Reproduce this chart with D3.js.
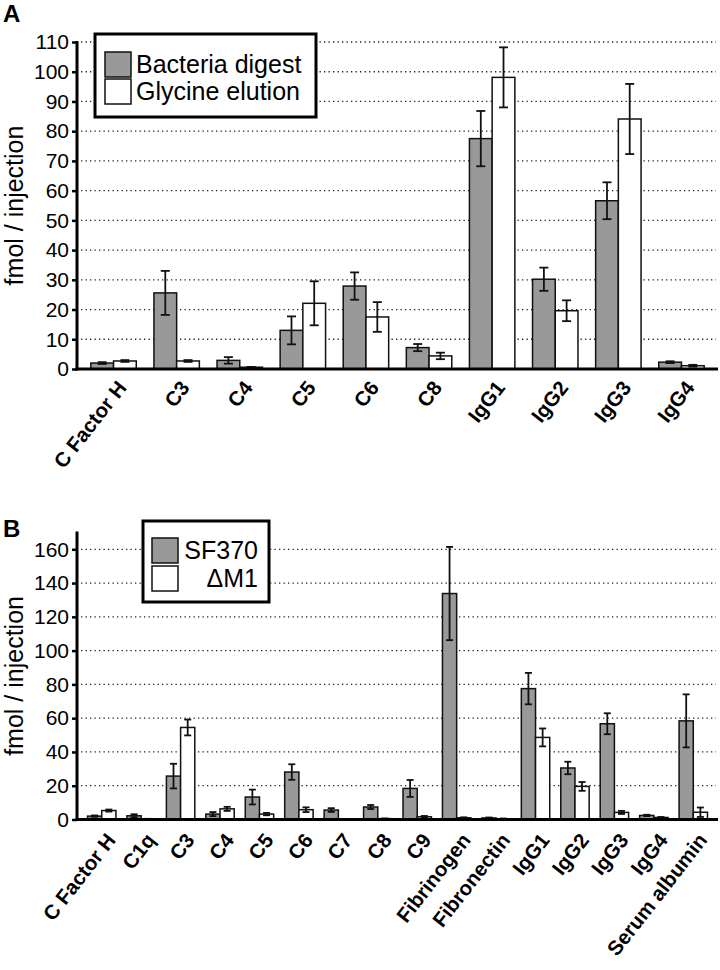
<!DOCTYPE html>
<html><head><meta charset="utf-8">
<script src="https://cdn.jsdelivr.net/npm/d3@7"></script>
<style>html,body{margin:0;padding:0;background:#fff;} svg{display:block;font-family:"Liberation Sans",Arial,sans-serif;}</style>
</head><body>
<script>
// Panel A data
const catsA = ["C Factor H","C3","C4","C5","C6","C8","IgG1","IgG2","IgG3","IgG4"];
const bacteriaDigest    = [2.0,25.6,2.9,13.0,27.9,7.2,77.5,30.2,56.6,2.3];
const bacteriaDigestErr = [0.3,7.4,1.1,4.7,4.6,1.2,9.3,3.9,6.2,0.3];
const glycineElution    = [2.7,2.7,0.6,22.1,17.5,4.4,98.1,19.6,84.1,1.1];
const glycineElutionErr = [0.3,0.3,0.1,7.4,5.0,1.1,10.1,3.5,11.8,0.3];
const ticksA = [0,10,20,30,40,50,60,70,80,90,100,110];

// Panel B data
const catsB = ["C Factor H","C1q","C3","C4","C5","C6","C7","C8","C9","Fibrinogen","Fibronectin","IgG1","IgG2","IgG3","IgG4","Serum albumin"];
const sf370    = [2.0,2.2,25.7,3.2,13.3,28.1,5.6,7.4,18.4,133.8,0.9,77.5,30.5,56.7,2.4,58.4];
const sf370Err = [0.4,0.9,7.3,1.2,4.4,4.6,1.1,1.2,5.0,27.6,0.3,9.3,3.7,6.2,0.4,15.7];
const dM1      = [5.3,0.3,54.5,6.3,3.2,5.8,0.2,0.5,1.6,1.0,0.4,48.6,19.6,4.2,1.2,4.3];
const dM1Err   = [0.6,0.1,4.7,1.2,0.7,1.4,0.1,0.1,0.5,0.3,0.2,5.3,2.6,0.9,0.3,2.8];
const ticksB = [0,20,40,60,80,100,120,140,160];

const W = 720, H = 970;
const svg = d3.select("body").append("svg").attr("width", W).attr("height", H);

function panel(o) {
  const g = svg.append("g");
  const y = d3.scaleLinear().domain([0, o.ymax]).range([o.y0, o.y1]);
  const x = d3.scaleBand().domain(o.cats).range([82, 713]).paddingInner(0.28).paddingOuter(0.14);
  const xs = d3.scaleBand().domain([0,1]).range([0, x.bandwidth()]);
  const axisX = 77;

  // gridlines
  g.append("g").selectAll("line").data(o.ticks.filter(t => t > 0)).join("line")
    .attr("x1", axisX + 4).attr("x2", 716)
    .attr("y1", d => y(d)).attr("y2", d => y(d))
    .attr("stroke", "#222").attr("stroke-width", 1.3).attr("stroke-dasharray", "1.3,3.2");

  // y axis
  const ax = g.append("g").attr("transform", `translate(${axisX},0)`)
    .call(d3.axisLeft(y).tickValues(o.ticks).tickSize(5).tickPadding(3).tickFormat(d3.format("d")));
  ax.select(".domain").remove();
  ax.selectAll(".tick line").attr("stroke", "#000").attr("stroke-width", 2.5);
  ax.selectAll(".tick text").attr("font-size", 21).attr("fill", "#000")
    .attr("font-family", '"Liberation Sans",Arial,sans-serif');
  g.append("line").attr("x1", axisX).attr("x2", axisX).attr("y1", y(o.ymax) - 1).attr("y2", o.y0 + 1.5)
    .attr("stroke", "#000").attr("stroke-width", 3);

  // bars
  const series = [
    {vals: o.s1, err: o.e1, fill: "#999999"},
    {vals: o.s2, err: o.e2, fill: "#ffffff"}
  ];
  series.forEach((s, si) => {
    const sg = g.append("g");
    sg.selectAll("rect").data(o.cats).join("rect")
      .attr("x", d => x(d) + xs(si))
      .attr("y", (d, i) => y(s.vals[i]))
      .attr("width", xs.bandwidth())
      .attr("height", (d, i) => o.y0 - y(s.vals[i]))
      .attr("fill", s.fill).attr("stroke", "#111").attr("stroke-width", 1.5);
  });
  series.forEach((s, si) => {
    const eg = g.append("g").attr("stroke", "#111").attr("stroke-width", 1.8);
    o.cats.forEach((c, i) => {
      const cx = x(c) + xs(si) + xs.bandwidth() / 2;
      const top = y(s.vals[i] + s.err[i]), bot = y(Math.max(0, s.vals[i] - s.err[i]));
      eg.append("line").attr("x1", cx).attr("x2", cx).attr("y1", top).attr("y2", bot);
      eg.append("line").attr("x1", cx - o.cap).attr("x2", cx + o.cap).attr("y1", top).attr("y2", top);
      eg.append("line").attr("x1", cx - o.cap).attr("x2", cx + o.cap).attr("y1", bot).attr("y2", bot);
    });
  });

  // baseline
  g.append("line").attr("x1", axisX - 1.5).attr("x2", 718).attr("y1", o.y0).attr("y2", o.y0)
    .attr("stroke", "#000").attr("stroke-width", 3);

  // x labels
  g.append("g").selectAll("text").data(o.cats).join("text")
    .attr("transform", d => `translate(${x(d) + x.bandwidth()/2 + o.lx},${o.y0 + o.ly}) rotate(${o.angle})`)
    .attr("text-anchor", "end").attr("font-size", o.lfs).attr("font-weight", "bold").attr("fill", "#000")
    .text(d => d);

  // y title
  g.append("text").attr("transform", `translate(23,${(o.y0 + o.y1) / 2}) rotate(-90)`)
    .attr("text-anchor", "middle").attr("font-size", 25).attr("fill", "#000").text("fmol / injection");

  // panel letter
  g.append("text").attr("x", 3).attr("y", o.letterY).attr("font-size", 24).attr("font-weight", "bold")
    .attr("fill", "#000").text(o.letter);

  // legend
  const L = o.legend;
  const lg = g.append("g");
  lg.append("rect").attr("x", L.x).attr("y", L.y).attr("width", L.w).attr("height", L.h)
    .attr("fill", "#fff").attr("stroke", "#000").attr("stroke-width", 3);
  L.items.forEach((it, i) => {
    lg.append("rect").attr("x", L.sx).attr("y", L.sy + i * L.dy).attr("width", 26).attr("height", 25)
      .attr("fill", series[i].fill).attr("stroke", "#111").attr("stroke-width", 1.5);
    lg.append("text").attr("x", L.anchor === "end" ? L.tx2 : L.tx).attr("y", L.sy + i * L.dy + 21)
      .attr("text-anchor", L.anchor).attr("font-size", 25).attr("fill", "#000").text(it);
  });
}

panel({
  cats: catsA, s1: bacteriaDigest, e1: bacteriaDigestErr, s2: glycineElution, e2: glycineElutionErr,
  ticks: ticksA, ymax: 110, y0: 369, y1: 42, cap: 4.5, lx: 14, ly: 19, lfs: 20.5, angle: -52,
  letter: "A", letterY: 22,
  legend: {x: 95, y: 34, w: 221, h: 83, sx: 105, sy: 52, dy: 27, tx: 136, anchor: "start",
           items: ["Bacteria digest", "Glycine elution"]}
});

panel({
  cats: catsB, s1: sf370, e1: sf370Err, s2: dM1, e2: dM1Err,
  ticks: ticksB, ymax: 170, y0: 819.5, y1: 532.4, cap: 3.5, lx: 15, ly: 21, lfs: 20.5, angle: -52,
  letter: "B", letterY: 537,
  legend: {x: 143, y: 521, w: 126, h: 81, sx: 152, sy: 538, dy: 28, tx: 184, tx2: 258, anchor: "end",
           items: ["SF370", "\u0394M1"]}
});
</script>
</body></html>
